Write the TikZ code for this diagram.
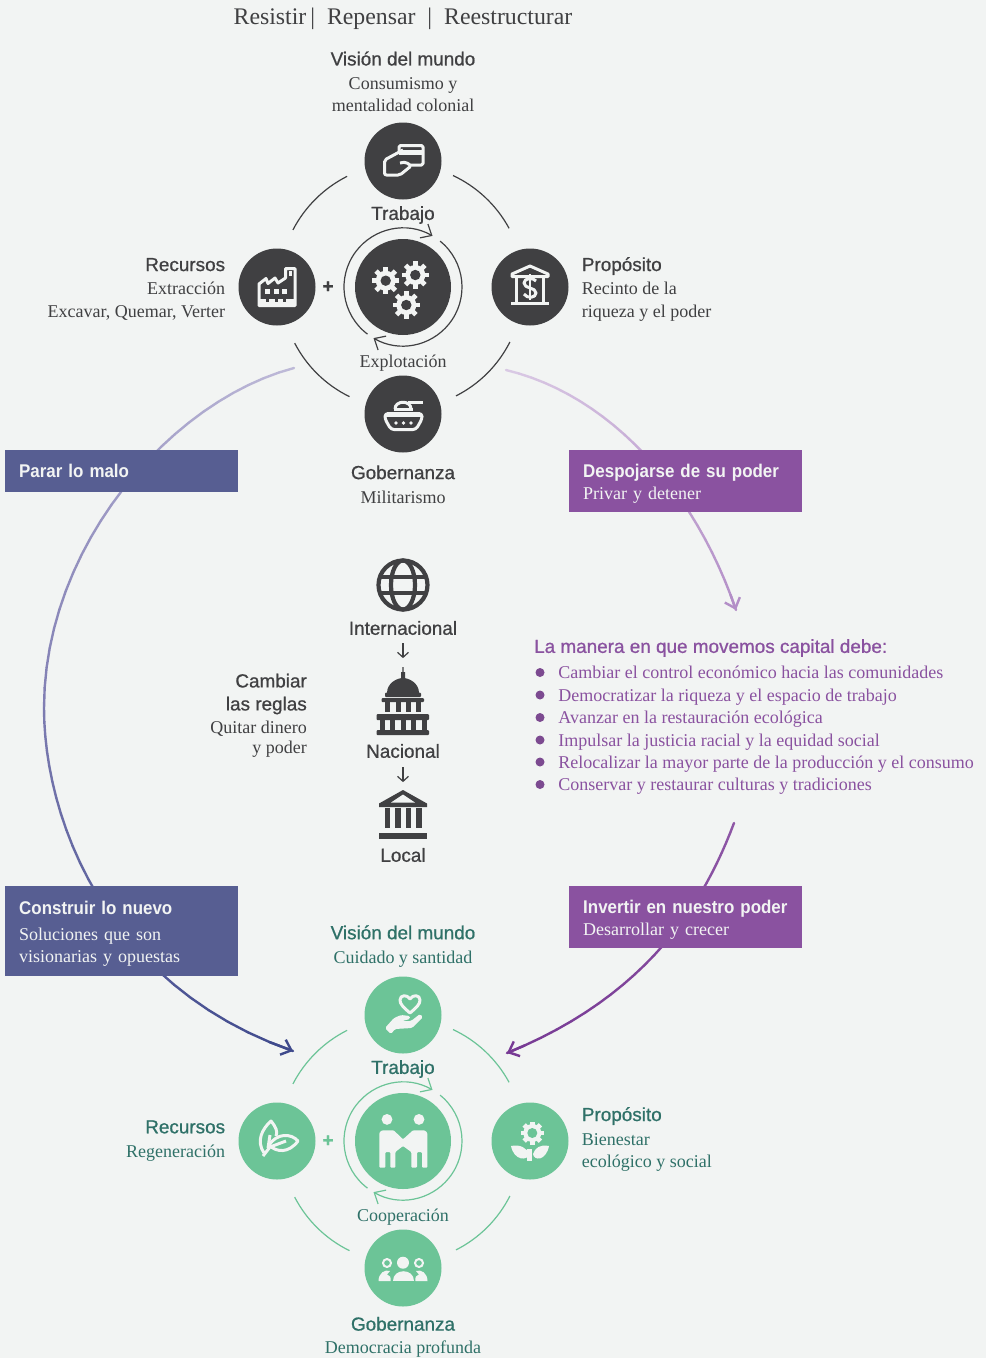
\documentclass[tikz,border=0pt]{standalone}
\usepackage{fontspec}
\setmainfont{Liberation Serif}
\setsansfont{Liberation Sans}
\newfontfamily\labelfont{Liberation Sans}[FakeBold=0.8]
\newfontfamily\headfont{Liberation Sans}[FakeStretch=0.92]
\newcommand{\taghead}{\labelfont\fontsize{18.9}{21}\selectfont}
\newcommand{\boxhead}[1]{\mbox{\rule{0pt}{18pt}\headfont\bfseries\fontsize{18.4}{21}\selectfont #1}}
\usetikzlibrary{positioning}
\usetikzlibrary{arrows.meta}
\tikzset{>={Straight Barb[length=9pt,width=16pt]}}

\definecolor{paper}{HTML}{F2F4F3}
\definecolor{ink}{HTML}{404042}
\definecolor{leaf}{HTML}{6CC497}
\definecolor{pine}{HTML}{2F7168}
\definecolor{plum}{HTML}{8A52A0}
\definecolor{slate}{HTML}{575E92}

%Curve that changes colour along its length
\newcommand{\fadecurve}[6]{%
  \foreach \i in {0,...,24}{\path (#1) .. controls (#2) and (#3) .. (#4) coordinate[pos=\i/24] (fade\i);}
  \foreach \i [remember=\i as \last (initially 0), evaluate=\i as \mix using 4*\i] in {1,...,24}{
    \draw[bigline, color=#6!\mix!#5] (fade\last) -- (fade\i);}
}

%Icons
\tikzset{
  iconline/.style={draw=#1, line width=3pt, line join=round},
  iconline/.default=paper,
  cardicon/.pic={
    \draw[iconline, rounded corners=1.5pt] (-4,9) -- (-4,15.5) -- (20,15.5) -- (20,-4) -- (7,-4);
    \fill[paper] (-4,10.7) rectangle (20,5.7);
    \draw[iconline, rounded corners=2pt] (0,11) -- (-18.5,1) -- (-18.5,-14) -- (-3,-14) -- (8,-5) -- (3,-1) -- (-3,-2);
  },
  factoryicon/.pic={
    \draw[iconline] (-18,-18.5) -- (-18,3) -- (-11,8.5) -- (-9,3.5) -- (-2,9) -- (1,4) -- (8.5,9) -- (8.5,18.5) -- (18,18.5) -- (18,-18.5) -- cycle;
    \fill[paper] (11.5,16) rectangle (15,11);
    \foreach \x in {-9.5,-1,7.5}{\fill[paper] (\x-2.5,-2) rectangle (\x+2.5,-7);}
    \fill[paper] (-18,-12) rectangle (18,-19);
    \foreach \x in {-9.5,-1,7.5}{\fill[ink] (\x-1.5,-12) rectangle (\x+1.5,-15);}
  },
  gearicon/.pic={
    \fill[paper] (0,0) circle[radius=10];
    \foreach \a in {0,45,...,315}{\fill[paper, rotate=\a] (-2.4,8) rectangle (2.4,13.7);}
    \fill[ink] (0,0) circle[radius=5.2];
  },
  bankicon/.pic={
    \draw[iconline] (-18,10.5) -- (-18,13) -- (0,21) -- (18,13) -- (18,10.5) -- cycle;
    \draw[iconline] (-13.5,10) -- (-13.5,-15) (13.5,10) -- (13.5,-15);
    \draw[iconline] (-19,-16) -- (19,-16);
    \draw[iconline] (6,6) .. controls (3,10) and (-6,9) .. (-6,4) .. controls (-6,-2) and (6,0) .. (6,-6) .. controls (6,-11) and (-3,-12) .. (-6,-7);
    \draw[paper, line width=2pt] (0,13) -- (0,-13);
  },
  tankicon/.pic={
    \draw[iconline] (-8,5) .. controls (-8,14) and (8,14) .. (8,5);
    \draw[iconline] (5,12) -- (20,12);
    \fill[paper] (-9,6) rectangle (10,3.5);
    \draw[iconline, rounded corners=3pt] (-18,0.5) -- (19,0.5) -- (19,-5) -- (13,-15.5) -- (-12,-15.5) -- (-18,-5) -- cycle;
    \fill[paper] (-18,0.5) rectangle (19,-3);
    \foreach \x in {-7,0.5,8}{\fill[paper] (\x,-9) circle[radius=1.9];}
  },
  handicon/.pic={
    \draw[iconline] (7,2) .. controls (0,8) and (-3,11) .. (-3,15) .. controls (-3,20) and (4,21) .. (7,16) .. controls (10,21) and (17,20) .. (17,15) .. controls (17,11) and (14,8) .. (7,2) -- cycle;
    \fill[paper, rounded corners=1.5pt] (-18,-13) -- (-9,-3) -- (-2,0) -- (7,-1) -- (7,-4) -- (-1,-6) -- (8,-6) -- (17,1) -- (20,-2) -- (9,-13) -- (-8,-14) -- (-12,-19) -- cycle;
  },
  leaficon/.pic={
    \draw[iconline] (-13,-12) .. controls (-21,0) and (-15,12) .. (-6,20) .. controls (-1,14) and (1,9) .. (-1,5);
    \draw[iconline] (-8,-4) .. controls (0,8) and (14,8) .. (21,0) .. controls (12,-12) and (0,-12) .. (-8,-4) -- cycle;
    \draw[iconline] (-14,-15) -- (-7,-6) -- (9,0);
    \draw[iconline] (-9,-7) -- (-7,6);
  },
  flowericon/.pic={
    \begin{scope}[shift={(2.3,8)}]
      \fill[paper] (0,0) circle[radius=9];
      \foreach \a in {0,45,...,315}{\fill[paper, rotate=\a] (-2.4,7) rectangle (2.4,11.5);}
      \fill[leaf] (0,0) circle[radius=5];
    \end{scope}
    \fill[paper] (-19,-5) .. controls (-10,-3) and (-3,-7) .. (-1,-13) .. controls (-2,-20) and (-16,-20) .. (-19,-5) -- cycle;
    \fill[paper] (19,-5) .. controls (10,-3) and (5,-7) .. (3,-13) .. controls (4,-20) and (16,-20) .. (19,-5) -- cycle;
    \fill[paper] (-2.6,-8) rectangle (2,-20);
  },
  peopleicon/.pic={
    \fill[paper] (-16,21.6) circle[radius=5.4] (16,21.6) circle[radius=5.4];
    \fill[paper, rounded corners=1pt] (-23.7,8.3) -- (-21,10.7) -- (-9.3,10.7) -- (0,1.7) -- (10,10.7) -- (21.7,10.7) -- (24.3,8.3) -- (24.3,-26.7) -- (19,-26.7) -- (19,-11) -- (14,-11) -- (14,-26.7) -- (8.3,-26.7) -- (8.3,-11) -- (0,-5) -- (-7.7,-11) -- (-7.7,-26.7) -- (-12.7,-26.7) -- (-12.7,-11) -- (-17.7,-11) -- (-17.7,-26.7) -- (-23.7,-26.7) -- cycle;
  },
  groupicon/.pic={
    \fill[paper] (0,5.3) circle[radius=6];
    \fill[paper] (-10.5,-13) .. controls (-10.5,0) and (10.5,0) .. (10.5,-13) -- cycle;
    \foreach \s in {-1,1}{
      \draw[paper, line width=2pt, xscale=\s] (16,5) circle[radius=4];
      \fill[paper, xscale=\s] (24.5,-13) .. controls (24.5,-5) and (18,-1) .. (13,-3) -- (16,-6.5) .. controls (13,-7) and (12,-9) .. (12.5,-13) -- cycle;
    }
  },
  globeicon/.pic={
    \draw[iconline=ink, line width=4.2pt] (0,0) circle[radius=24.5];
    \draw[iconline=ink, line width=4.2pt] (0,0) ellipse[x radius=12, y radius=24.5];
    \draw[iconline=ink, line width=4.2pt] (-24,8) -- (24,8) (-24,-8) -- (24,-8);
  },
  capitolicon/.pic={
    \fill[ink] (-16,7) .. controls (-16,17) and (-6,22) .. (0,22) .. controls (6,22) and (16,17) .. (16,7) -- cycle;
    \fill[ink] (-2,20) rectangle (2,28) (-0.7,28) rectangle (0.7,33);
    \fill[ink, rounded corners=1pt] (-18,7.5) rectangle (18,3) (-21.5,2) rectangle (21,-2) (-26.5,-14) rectangle (26,-20) (-26.5,-30) rectangle (26,-35);
    \foreach \x in {-15.5,-5,5,15.5}{\fill[ink] (\x-2.5,-2) rectangle (\x+2.5,-12);}
    \foreach \x in {-21,-10.5,0,10.5,21}{\fill[ink] (\x-2.5,-20) rectangle (\x+2.5,-30);}
  },
  templeicon/.pic={
    \fill[ink] (0,25) -- (24,11.5) -- (24,8) -- (-24,8) -- (-24,11.5) -- cycle;
    \fill[paper] (0,20.5) -- (12,12.5) -- (-12,12.5) -- cycle;
    \foreach \x in {-15.7,-5.2,5.3,16.2}{\fill[ink] (\x-2.8,7) rectangle (\x+2.8,-13);}
    \fill[ink] (-24,-18) rectangle (24,-24);
  }
}

\begin{document}
\begin{tikzpicture}[x=1pt, y=1pt,
    hub/.style={circle, fill=#1, minimum size=96pt, inner sep=0pt},
    spoke/.style={circle, fill=#1, minimum size=77pt, inner sep=0pt, on grid},
    ringline/.style={draw=#1, line width=1.2pt},
    bigline/.style={line width=2.4pt, line cap=round},
    smalltip/.style={-{Straight Barb[length=5pt,width=11pt]}},
    body/.style={font=\fontsize{18}{21.5}\selectfont, inner sep=0pt, text=ink},
    tag/.style={font=\taghead, inner sep=0pt, text=ink},
    block/.style={body, align=#1},
    sideblock/.style={body, align=#1, font=\fontsize{18}{23}\selectfont},
    box/.style={anchor=north west, fill=#1, text=paper, minimum width=233pt, text width=205pt, inner xsep=14pt, inner ysep=0pt, align=left, font=\fontsize{18}{21.5}\selectfont},
    bullet/.style={circle, fill=plum!90!black, minimum size=9pt, inner sep=0pt}]

    %Background
    \fill[paper] (0,0) rectangle (986,-1358);
    \useasboundingbox (0,0) rectangle (986,-1358);

    %Long curves
    \coordinate (leftstart) at (294,-368);
    \coordinate (leftmid) at (44,-708);
    \coordinate (leftend) at (293,-1051);
    \coordinate (rightstart) at (506,-370);
    \coordinate (rightend) at (736,-610);
    \coordinate (lowstart) at (734,-823);
    \coordinate (lowend) at (507,-1053);
    \definecolor{slateA}{HTML}{C0BBD9}
    \definecolor{slateB}{HTML}{7F7DB2}
    \definecolor{slateC}{HTML}{3F4A8C}
    \definecolor{plumA}{HTML}{DBCBE5}
    \definecolor{plumB}{HTML}{B38EC7}
    \definecolor{plumC}{HTML}{8F58A6}
    \definecolor{plumD}{HTML}{773A94}
    \fadecurve{leftstart}{172,-400}{44,-545}{leftmid}{slateA}{slateB}
    \fadecurve{leftmid}{44,-815}{103,-985}{leftend}{slateB}{slateC}
    \draw[bigline, slateC, ->] (fade23) -- (leftend);
    \fadecurve{rightstart}{610,-395}{695,-490}{rightend}{plumA}{plumB}
    \draw[bigline, plumB, ->] (fade23) -- (rightend);
    \fadecurve{lowstart}{705,-900}{650,-995}{lowend}{plumC}{plumD}
    \draw[bigline, plumD, ->] (fade23) -- (lowend);

    %Nodes
    \node[font=\fontsize{23.8}{26}\selectfont, text=ink, inner sep=0pt] (heading) at (403,-18.5) {Resistir\,|\ \ Repensar\ \ |\ \ Reestructurar};

    \foreach \s/\col/\y in {A/ink/-287, B/leaf/-1141}{
      \node[hub=\col] (hub\s) at (403,\y) {};
      \node[spoke=\col, above=126pt of hub\s] (work\s) {};
      \node[spoke=\col, left=126pt of hub\s] (res\s) {};
      \node[spoke=\col, right=127pt of hub\s] (aim\s) {};
      \node[spoke=\col, below=127pt of hub\s] (gov\s) {};
      \coordinate[right=67pt of hub\s] (gapin\s);
      \coordinate[right=82pt of hub\s] (gapout\s);
    }

    %Upper cycle texts
    \node[block=center, above=10.5pt of workA] (worldtextA) {\taghead Visión del mundo\\[3pt] Consumismo y\\ mentalidad colonial};
    \node[tag, on grid, below=54pt of workA] (worktextA) {Trabajo};
    \node[sideblock=right, left=13pt of resA, yshift=-2pt] (restextA) {\taghead Recursos\\ Extracción\\ Excavar, Quemar, Verter};
    \node[sideblock=left, right=13pt of aimA, yshift=-2pt] (aimtextA) {\taghead Propósito\\ Recinto de la\\ riqueza y el poder};
    \node[body, on grid, above=51pt of govA] (hubtextA) {Explotación};
    \node[block=center, below=12.5pt of govA] (govtextA) {\taghead Gobernanza\\[3pt] Militarismo};
    \node[tag, on grid, right=51pt of resA] (plusA) {\bfseries +};

    %Lower cycle texts
    \node[block=center, above=8.5pt of workB, text=pine] (worldtextB) {\taghead Visión del mundo\\[3pt] Cuidado y santidad};
    \node[tag, on grid, below=54pt of workB, text=pine] (worktextB) {Trabajo};
    \node[block=right, left=13pt of resB, text=pine] (restextB) {\taghead Recursos\\[3pt] Regeneración};
    \node[block=left, right=13pt of aimB, yshift=2pt, text=pine] (aimtextB) {\taghead Propósito\\[3pt] Bienestar\\ ecológico y social};
    \node[body, on grid, above=51pt of govB, text=pine] (hubtextB) {Cooperación};
    \node[block=center, below=10pt of govB, text=pine] (govtextB) {\taghead Gobernanza\\[1pt] Democracia profunda};
    \node[tag, on grid, right=51pt of resB, text=leaf] (plusB) {\bfseries +};

    %Middle column
    \node[tag] (intl) at (403,-628) {Internacional};
    \node[tag] (natl) at (403,-751) {Nacional};
    \node[tag] (locl) at (403,-855) {Local};
    \coordinate[below=8pt of intl] (intlout);
    \coordinate[below=23pt of intl] (natlin);
    \coordinate[below=9pt of natl] (natlout);
    \coordinate[below=24pt of natl] (loclin);
    \node[sideblock=right, anchor=east] (rules) at (307,-715.5) {\taghead Cambiar\\ \taghead las reglas\\ Quitar dinero\\[-3pt] y poder};

    %Boxes
    \node[box=slate, minimum height=42pt, text depth=6pt] (stopbox) at (5,-450) {\boxhead{Parar lo malo}};
    \node[box=plum, minimum height=62pt] (divestbox) at (569,-450) {\boxhead{Despojarse de su poder}\\ Privar y detener};
    \node[box=slate, minimum height=90pt] (buildbox) at (5,-886) {\boxhead{Construir lo nuevo}\\[5pt] Soluciones que son\\ visionarias y opuestas};
    \node[box=plum, minimum height=62pt] (investbox) at (569,-886) {\boxhead{Invertir en nuestro poder}\\ Desarrollar y crecer};

    %List
    \node[tag, anchor=west, text=plum] (listhead) at (534,-648) {La manera en que movemos capital debe:};
    \foreach \y/\txt [count=\n] in {672.5/{Cambiar el control económico hacia las comunidades}, 695/{Democratizar la riqueza y el espacio de trabajo}, 717.5/{Avanzar en la restauración ecológica}, 740/{Impulsar la justicia racial y la equidad social}, 762/{Relocalizar la mayor parte de la producción y el consumo}, 784.5/{Conservar y restaurar culturas y tradiciones}}{
      \node[bullet] (dot\n) at (540,-\y) {};
      \node[body, text=plum, text height=15pt, text depth=3pt, right=13.5pt of dot\n] (item\n) {\txt};
    }

    %Lines
    \foreach \s/\col in {A/ink, B/leaf}{
      \foreach \a/\b/\r/\dx in {152.6/116.8/124/0, 65/28.5/123/-2, 207.4/244/122/0, -26.8/-63.2/122/-2}{
        \draw[ringline=\col] ([shift={(\a:\r pt)},xshift=\dx pt]hub\s.center) arc[start angle=\a, end angle=\b, radius=\r pt];
      }
      \draw[ringline=\col, ->] ([shift={(233:59pt)}]hub\s.center) arc[start angle=233, end angle=60, radius=59pt];
      \draw[ringline=\col, ->] ([shift={(51:59pt)}]hub\s.center) arc[start angle=51, end angle=-120, radius=59pt];
      \draw[ringline=\col, smalltip] (gapin\s) -- (gapout\s);
    }
    \draw[ringline=ink, smalltip] (intlout) -- (natlin);
    \draw[ringline=ink, smalltip] (natlout) -- (loclin);

    %Icons
    \pic at (workA) {cardicon};
    \pic at (resA) {factoryicon};
    \pic at (aimA) {bankicon};
    \pic at (govA) {tankicon};
    \pic at ([shift={(-17.3,6.3)}]hubA.center) {gearicon};
    \pic at ([shift={(12.3,12)}]hubA.center) {gearicon};
    \pic at ([shift={(3.3,-18)}]hubA.center) {gearicon};
    \pic at (workB) {handicon};
    \pic at (resB) {leaficon};
    \pic at (aimB) {flowericon};
    \pic at (govB) {groupicon};
    \pic at (hubB) {peopleicon};
    \pic at (403,-585) {globeicon};
    \pic at (403,-700) {capitolicon};
    \pic at (403,-815) {templeicon};

\end{tikzpicture}
\end{document}
